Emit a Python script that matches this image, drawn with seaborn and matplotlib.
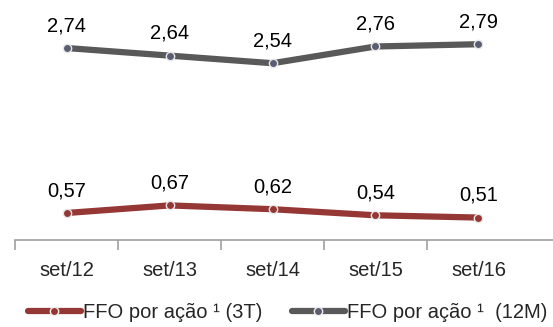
import pandas as pd
import seaborn as sns
import matplotlib.pyplot as plt

# DATA ---------------------------------------------------------------
periods = ['set/12', 'set/13', 'set/14', 'set/15', 'set/16']
ffo_3t = [0.57, 0.67, 0.62, 0.54, 0.51]
ffo_12m = [2.74, 2.64, 2.54, 2.76, 2.79]
series_names = ['FFO por ação ¹ (3T)', 'FFO por ação ¹  (12M)']

df = pd.DataFrame({
    'x': list(range(len(periods))) * 2,
    'valor': ffo_3t + ffo_12m,
    'serie': [series_names[0]] * len(periods) + [series_names[1]] * len(periods),
})

sns.set_style('white')
plt.rcParams['font.family'] = ['Liberation Sans', 'DejaVu Sans']

red = '#953735'
gray = '#595959'
palette = {series_names[0]: red, series_names[1]: gray}
fs = 14.5

fig = plt.figure(figsize=(5.53, 3.27), dpi=100)
# the category axis runs off the right edge of the picture
ax = fig.add_axes([15 / 553, 87 / 327, 538 / 553, 230 / 327])

sns.lineplot(data=df, x='x', y='valor', hue='serie', palette=palette,
             linewidth=4.5, marker='o', markersize=6,
             markeredgecolor='#e8e8ec', markeredgewidth=1.0,
             legend=False, ax=ax)

# marker fill colours
for line, face in zip(ax.get_lines(), [red, '#5a5e70']):
    line.set_markerfacecolor(face)

# data labels
for vals in (ffo_3t, ffo_12m):
    for i, v in enumerate(vals):
        ax.annotate(f'{v:.2f}'.replace('.', ','), (i, v), xytext=(0, 16),
                    textcoords='offset points', ha='center', va='center',
                    fontsize=fs, color='black')

ax.set_xlim(-0.5, 4.5 + 23 / 103)
ax.set_ylim(0.215, 3.24)
ax.set_yticks([])
ax.set_xticks(range(len(periods)))
ax.set_xticklabels(periods, fontsize=fs)
ax.set_xticks([i - 0.5 for i in range(len(periods))], minor=True)
ax.tick_params(axis='x', which='major', length=0, pad=15)
ax.tick_params(axis='x', which='minor', length=7, color='#a0a0a0', width=1.2, direction='out', bottom=True)
ax.set_xlabel('')
ax.set_ylabel('')
for side in ['top', 'right', 'left']:
    ax.spines[side].set_visible(False)
ax.spines['bottom'].set_color('#a0a0a0')
ax.spines['bottom'].set_linewidth(1.2)

# legend
handles = [
    plt.Line2D([], [], color=red, linewidth=4.5, marker='o', markersize=6,
               markerfacecolor=red, markeredgecolor='#f0f0f0'),
    plt.Line2D([], [], color=gray, linewidth=4.5, marker='o', markersize=6,
               markerfacecolor='#5a5e70', markeredgecolor='#f0f0f0'),
]
fig.legend(handles, series_names, loc='center', bbox_to_anchor=(0.52, 14 / 327),
           ncol=2, frameon=False, fontsize=fs, handlelength=2.6,
           handletextpad=0.1, columnspacing=1.5)

fig.savefig('out.png', dpi=100)
